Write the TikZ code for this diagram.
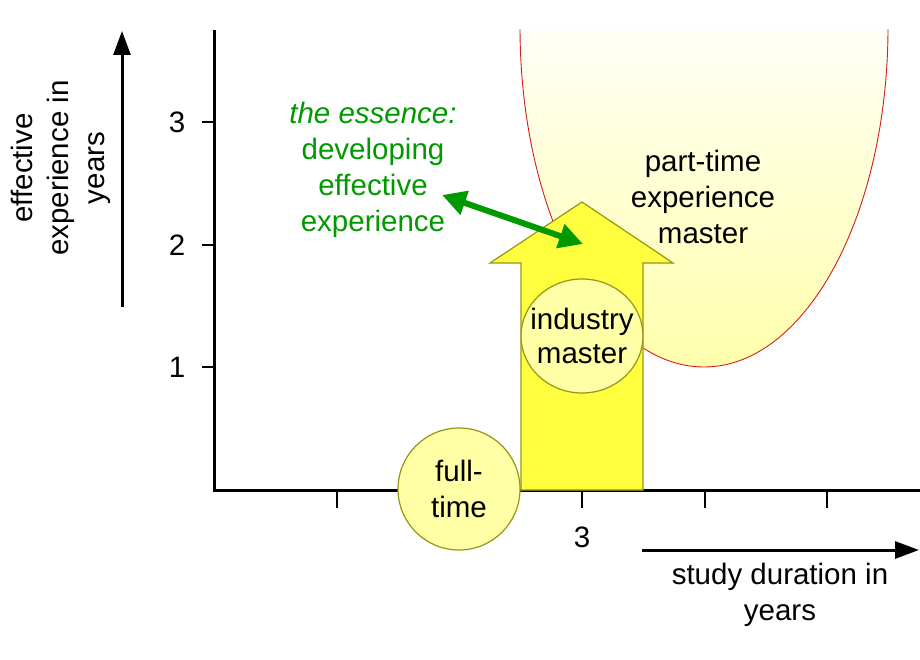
\documentclass[tikz,border=0pt]{standalone}
\usepackage{fontspec}
\setmainfont{Liberation Sans}
\usetikzlibrary{arrows.meta,shapes.geometric}
\definecolor{olivebd}{RGB}{150,150,20}
\definecolor{circfill}{RGB}{255,255,166}
\definecolor{arrfill}{RGB}{255,255,64}
\definecolor{essgreen}{RGB}{0,153,0}
\definecolor{ellred}{RGB}{210,30,30}
\tikzset{
  lbl/.style={font=\fontsize{29.5}{36}\selectfont, align=center, inner sep=0pt},
  ticklbl/.style={font=\fontsize{29.5}{36}\selectfont, inner sep=0pt},
  bubble/.style={ellipse, draw=olivebd, fill=circfill, line width=1.2pt, inner sep=0pt},
  axisline/.style={line width=3pt},
  tickline/.style={line width=2pt},
  axisarrow/.style={line width=3pt, -{Triangle[length=24pt,width=17pt]}},
}
\begin{document}
\begin{tikzpicture}[x=1pt,y=-1pt]
\useasboundingbox (0,0) rectangle (920,660);
% part-time region
\begin{scope}
\clip (0,30) rectangle (920,660);
\path[top color={rgb,255:red,255;green,255;blue,248}, bottom color={rgb,255:red,255;green,255;blue,170}, draw=ellred, line width=0.9pt]
  (520,27) arc[start angle=180, end angle=360, x radius=184, y radius=-340];
\end{scope}
\node[lbl] (pt) at (703,197) {part-time\\experience\\master};
% axes
\coordinate (o) at (214,490);
\coordinate (ytop) at (214,30);
\coordinate (xend) at (920,490);
\draw[axisline] (ytop) -- (o) -- (xend);
% y ticks
\foreach \yy/\nm in {122/3,245/2,367/1}{
  \coordinate (yt\nm) at (202,\yy);
  \coordinate (yo\nm) at (214,\yy);
  \draw[tickline] (yt\nm) -- (yo\nm);
  \node[ticklbl] (yl\nm) at (177,\yy) {\nm};
}
% x ticks
\foreach \xx/\nm in {337/a,582/b,705/c,827/d}{
  \coordinate (xt\nm) at (\xx,490);
  \coordinate (xb\nm) at (\xx,508);
  \draw[tickline] (xt\nm) -- (xb\nm);
}
\node[ticklbl] (xl3) at (582,537) {3};
% big yellow arrow
\path[draw=olivebd, fill=arrfill, line width=1.2pt, line join=miter]
  (521,490) -- (521,263) -- (490,263) -- (582,202) -- (673,263) -- (643,263) -- (643,490) -- cycle;
% bubbles
\node[bubble, minimum width=122pt, minimum height=114pt] (ind) at (582,336) {};
\node[lbl, font=\fontsize{29.5}{34}\selectfont] (indt) at (ind.center) {industry\\master};
\node[bubble, minimum width=122pt, minimum height=122pt] (ft) at (459,489) {};
\node[lbl] (ftt) at (ft.center) {full-\\time};
% axis arrows
\coordinate (ya1) at (122,307);
\coordinate (ya2) at (122,31);
\draw[axisarrow] (ya1) -- (ya2);
\coordinate (xa1) at (642,550);
\coordinate (xa2) at (919,550);
\draw[axisarrow] (xa1) -- (xa2);
% axis labels
\node[lbl, rotate=90] (ylab) at (61,168) {effective\\experience in\\years};
\node[lbl] (xlab) at (780,595) {study duration in\\years};
% essence
\node[lbl, text=essgreen] (ess) at (373,170) {\textit{the essence:}\\developing\\effective\\experience};
\coordinate (g1) at (442,195);
\coordinate (g2) at (583,244);
\draw[essgreen, line width=6pt, {Triangle[length=24pt,width=24pt]}-{Triangle[length=24pt,width=24pt]}] (g1) -- (g2);
\end{tikzpicture}
\end{document}
